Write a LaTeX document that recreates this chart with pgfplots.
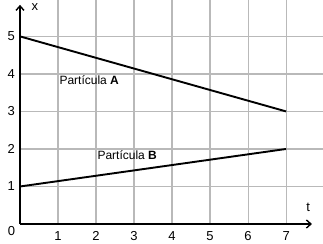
\documentclass[border=0pt]{standalone}
\usepackage{fontspec}
\setmainfont{Liberation Sans}
\usepackage{pgfplots}
\pgfplotsset{compat=1.18}
\usetikzlibrary{arrows.meta}
\definecolor{gridc}{RGB}{185,185,185}
\begin{document}
\begin{tikzpicture}
\path[use as bounding box] (-20bp,-20bp) rectangle (303bp,224bp);
\begin{axis}[
  at={(0,0)}, anchor=south west,
  scale only axis, width=303bp, height=224bp,
  xmin=0, xmax=7.97, ymin=0, ymax=5.97,
  axis line style={draw=none},
  xtick={1,...,7}, ytick={1,...,5},
  grid=major,
  major grid style={gridc, line width=1.2bp},
  major tick length=0pt,
  tick label style={font=\fontsize{13bp}{15bp}\selectfont},
  /pgf/number format/assume math mode=true,
  xticklabel style={anchor=north, inner sep=0pt, yshift=-7bp},
  yticklabel style={anchor=east, inner sep=0pt, xshift=-5bp},
  clip=false,
]
\addplot[black, line width=1.9bp] coordinates {(0,5) (7,3)};
\addplot[black, line width=1.9bp] coordinates {(0,1) (7,2)};
\draw[black, line width=1.4bp, -{Straight Barb[length=4.5bp,width=8bp]}] (axis cs:0,0) -- (axis cs:7.68,0);
\draw[black, line width=1.4bp, -{Straight Barb[length=4.5bp,width=8bp]}] (axis cs:0,0) -- (axis cs:0,5.84);
\node[font=\fontsize{13bp}{15bp}\selectfont] at (axis cs:0.39,5.78) {x};
\node[font=\fontsize{13bp}{15bp}\selectfont] at (axis cs:7.58,0.45) {t};
\node[font=\fontsize{13bp}{15bp}\selectfont, inner sep=0pt] at (axis cs:0,0) [xshift=-8.5bp, yshift=-7bp] {0};
\node[font=\fontsize{12bp}{14bp}\selectfont] at (axis cs:1.82,3.84) {Partícula \textbf{A}};
\node[font=\fontsize{12bp}{14bp}\selectfont] at (axis cs:2.82,1.84) {Partícula \textbf{B}};
\end{axis}
\end{tikzpicture}
\end{document}
